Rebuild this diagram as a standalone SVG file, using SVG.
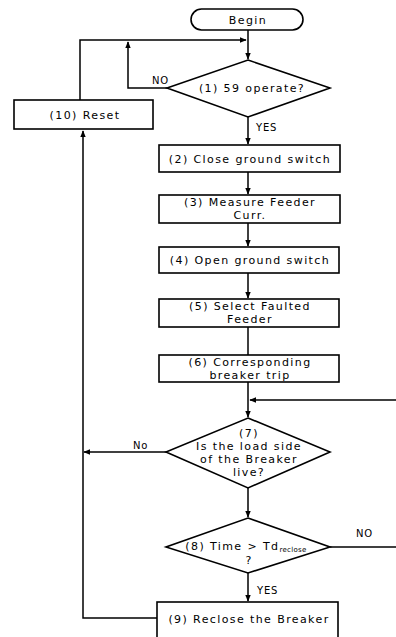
<svg xmlns="http://www.w3.org/2000/svg" width="396" height="637" viewBox="0 0 396 637">
<defs>
<marker id="ah" viewBox="0 0 10 10" refX="9" refY="5" markerWidth="7" markerHeight="7" orient="auto" markerUnits="userSpaceOnUse">
<path d="M0,1 L10,5 L0,9 z" fill="#000"/>
</marker>
</defs>
<style>
.n{fill:#fff;stroke:#000;stroke-width:1.6}
.c{fill:none;stroke:#000;stroke-width:1.5}
.t{font-family:"DejaVu Sans",sans-serif;font-size:11px;letter-spacing:1.4px;fill:#000;text-anchor:middle}
.l{font-family:"DejaVu Sans",sans-serif;font-size:10px;letter-spacing:0.8px;fill:#000}
</style>
<rect width="396" height="637" fill="#fff"/>
<g id="connectors">
<path class="c" d="M248,30 V59" marker-end="url(#ah)"/>
<path class="c" d="M80,100 V40 H246" marker-end="url(#ah)"/>
<path class="c" d="M167,88 H128 V42" marker-end="url(#ah)"/>
<path class="c" d="M248,117 V144" marker-end="url(#ah)"/>
<path class="c" d="M248,172 V194" marker-end="url(#ah)"/>
<path class="c" d="M248,223 V246" marker-end="url(#ah)"/>
<path class="c" d="M248,273 V298" marker-end="url(#ah)"/>
<path class="c" d="M248,327 V355"/>
<path class="c" d="M248,382 V417" marker-end="url(#ah)"/>
<path class="c" d="M396,400 H250" marker-end="url(#ah)"/>
<path class="c" d="M166,452 H84" marker-end="url(#ah)"/>
<path class="c" d="M248,488 V517" marker-end="url(#ah)"/>
<path class="c" d="M330,547 H396"/>
<path class="c" d="M248,573 V601" marker-end="url(#ah)"/>
<path class="c" d="M157,618 H83 V131" marker-end="url(#ah)"/>
<text class="l" x="152" y="84">NO</text>
<text class="l" x="256" y="131">YES</text>
<text class="l" x="133" y="449">No</text>
<text class="l" x="356" y="537">NO</text>
<text class="l" x="257" y="594">YES</text>
</g>
<g id="begin">
<rect class="n" x="191" y="9" width="112" height="21" rx="10.5"/>
<text class="t" x="248" y="24">Begin</text>
</g>
<g id="n1">
<polygon class="n" points="248,60 330,88 248,117 167,88"/>
<text class="t" x="252" y="92">(1) 59 operate?</text>
</g>
<g id="n10">
<rect class="n" x="14" y="100" width="139" height="29"/>
<text class="t" x="85" y="119">(10) Reset</text>
</g>
<g id="n2">
<rect class="n" x="159" y="145" width="181" height="27"/>
<text class="t" x="250" y="163">(2) Close ground switch</text>
</g>
<g id="n3">
<rect class="n" x="159" y="195" width="181" height="28"/>
<text class="t" x="250" y="206">(3) Measure Feeder</text>
<text class="t" x="250" y="219">Curr.</text>
</g>
<g id="n4">
<rect class="n" x="159" y="247" width="180" height="26"/>
<text class="t" x="250" y="264">(4) Open ground switch</text>
</g>
<g id="n5">
<rect class="n" x="159" y="299" width="180" height="28"/>
<text class="t" x="250" y="310">(5) Select Faulted</text>
<text class="t" x="250" y="323">Feeder</text>
</g>
<g id="n6">
<rect class="n" x="159" y="355" width="180" height="27"/>
<text class="t" x="250" y="366">(6) Corresponding</text>
<text class="t" x="250" y="379">breaker trip</text>
</g>
<g id="n7">
<polygon class="n" points="248,418 330,452 248,488 166,452"/>
<text class="t" x="249" y="437">(7)</text>
<text class="t" x="249" y="450">Is the load side</text>
<text class="t" x="249" y="463">of the Breaker</text>
<text class="t" x="249" y="476">live?</text>
</g>
<g id="n8">
<polygon class="n" points="248,518 330,547 248,573 166,547"/>
<text class="t" x="246" y="550">(8) Time &gt; Td<tspan font-size="7px" letter-spacing="0.3px" dy="2">reclose</tspan></text>
<text class="t" x="249" y="564">?</text>
</g>
<g id="n9">
<rect class="n" x="157" y="602" width="181" height="45"/>
<text class="t" x="249" y="623">(9) Reclose the Breaker</text>
</g>
</svg>
